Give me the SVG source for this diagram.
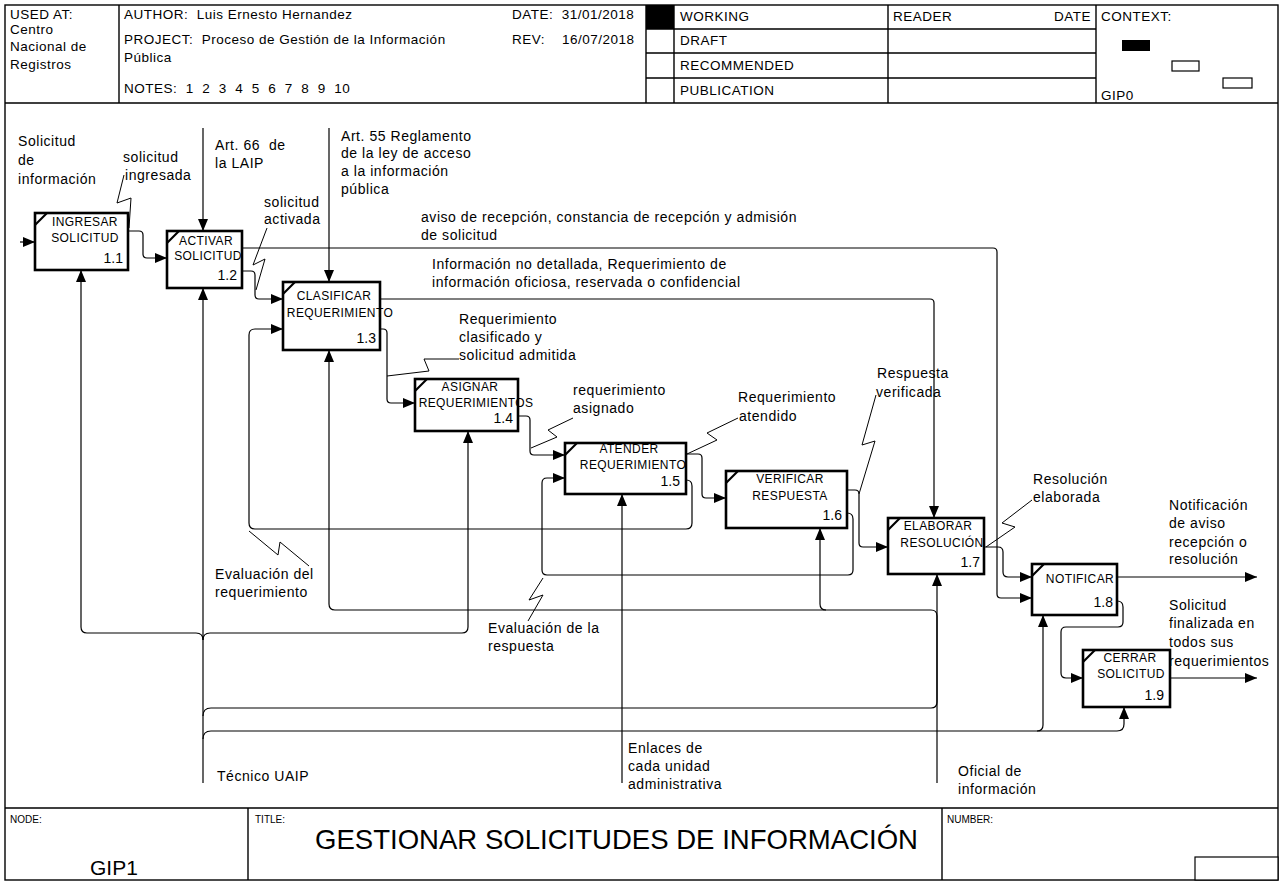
<svg xmlns="http://www.w3.org/2000/svg" width="1281" height="884" viewBox="0 0 1281 884">
<defs>
<marker id="ah" markerUnits="userSpaceOnUse" markerWidth="13" markerHeight="10" refX="12" refY="5" orient="auto"><path d="M0,0 L12,5 L0,10 z" fill="#000"/></marker>
<style>
text{font-family:"Liberation Sans",Arial,sans-serif;fill:#000}
.h{font-size:13.5px;letter-spacing:0.5px}
.l{font-size:14px;letter-spacing:0.55px}
.bx{font-size:12px;letter-spacing:0.4px;text-anchor:middle}
.num{font-size:14px;text-anchor:end}
.sm{font-size:10px}
.fr{fill:none;stroke:#000;stroke-width:1.4}
.node rect{fill:#fff;stroke:#000;stroke-width:2.6}
.node path{stroke:#000;stroke-width:2.2}
#connectors path{fill:none;stroke:#000;stroke-width:1.2}
#connectors .a{marker-end:url(#ah)}
#leaders path{fill:none;stroke:#000;stroke-width:1}
</style>
</defs>
<rect x="0" y="0" width="1281" height="884" fill="#fff"/>
<g id="frame">
<rect class="fr" x="5" y="5" width="1273" height="875"/>
<path class="fr" d="M5,103 H1278 M5,808 H1278 M119,5 V103 M646,5 V103 M674,5 V103 M888,5 V103 M1096,5 V103 M646,29 H1096 M646,53 H1096 M646,78 H1096 M248,808 V880 M942,808 V880"/>
<rect x="646" y="5" width="28" height="24" fill="#000"/>
<rect x="1122" y="40" width="28" height="11" fill="#000"/>
<rect x="1172" y="61" width="27" height="10" fill="#fff" stroke="#000" stroke-width="1.2"/>
<rect x="1223" y="78" width="29" height="10" fill="#fff" stroke="#000" stroke-width="1.2"/>
<rect x="1195" y="857" width="83" height="23" fill="#fff" stroke="#000" stroke-width="1.2"/>
</g>
<g id="header">
<text class="h" x="10" y="19">USED AT:</text>
<text class="h" x="10" y="34">Centro</text>
<text class="h" x="10" y="51">Nacional de</text>
<text class="h" x="10" y="69">Registros</text>
<text class="h" x="124" y="19" xml:space="preserve">AUTHOR:  Luis Ernesto Hernandez</text>
<text class="h" x="124" y="44" xml:space="preserve">PROJECT:  Proceso de Gestión de la Información</text>
<text class="h" x="124" y="62">Pública</text>
<text class="h" x="124" y="93" xml:space="preserve">NOTES:  1  2  3  4  5  6  7  8  9  10</text>
<text class="h" x="512" y="19" xml:space="preserve">DATE:  31/01/2018</text>
<text class="h" x="512" y="44" xml:space="preserve">REV:    16/07/2018</text>
<text class="h" x="680" y="21">WORKING</text>
<text class="h" x="680" y="45">DRAFT</text>
<text class="h" x="680" y="70">RECOMMENDED</text>
<text class="h" x="680" y="95">PUBLICATION</text>
<text class="h" x="893" y="21">READER</text>
<text class="h" x="1091" y="21" text-anchor="end">DATE</text>
<text class="h" x="1101" y="21">CONTEXT:</text>
<text class="h" x="1101" y="100">GIP0</text>
</g>
<g id="footer">
<text class="sm" x="10" y="823">NODE:</text>
<text x="90" y="875" font-size="21">GIP1</text>
<text class="sm" x="255" y="823">TITLE:</text>
<text x="315" y="849" font-size="28" textLength="603" lengthAdjust="spacingAndGlyphs">GESTIONAR SOLICITUDES DE INFORMACIÓN</text>
<text class="sm" x="947" y="823">NUMBER:</text>
</g>
<g id="connectors">
<path class="a" d="M20,242 H35"/>
<path class="a" d="M128,231 H139 Q143,231 143,235 V254 Q143,258 147,258 H167"/>
<path class="a" d="M203,128 V231"/>
<path class="a" d="M329,128 V282"/>
<path class="a" d="M242,248 H993 Q997,248 997,252 V594 Q997,598 1001,598 H1032"/>
<path class="a" d="M242,271 H251 Q255,271 255,275 V295 Q255,299 259,299 H283"/>
<path class="a" d="M380,299 H930 Q934,299 934,303 V518"/>
<path class="a" d="M380,329 H383 Q387,329 387,333 V399 Q387,403 391,403 H415"/>
<path class="a" d="M518,416 H526 Q530,416 530,420 V451 Q530,455 534,455 H565"/>
<path class="a" d="M686,454 H698 Q702,454 702,458 V494 Q702,498 706,498 H726"/>
<path class="a" d="M847,490 H855 Q859,490 859,494 V543 Q859,547 863,547 H888"/>
<path class="a" d="M984,547 H998 Q1003,547 1003,552 V572 Q1003,577 1008,577 H1032"/>
<path class="a" d="M1117,577 H1257"/>
<path class="a" d="M1117,601 Q1123,601 1123,607 V622 Q1123,627 1118,627 H1066 Q1061,627 1061,632 V673 Q1061,678 1066,678 H1083"/>
<path class="a" d="M1170,678 H1257"/>
<path class="a" d="M686,480 Q692,480 692,486 V523 Q692,529 686,529 H255 Q249,529 249,523 V335 Q249,329 255,329 H283"/>
<path class="a" d="M847,513 Q853,513 853,519 V570 Q853,575 848,575 H547 Q542,575 542,570 V483 Q542,478 547,478 H565"/>
<path class="a" d="M203,783 V288"/>
<path class="a" d="M203,640 Q203,633 196,633 H87 Q81,633 81,627 V270"/>
<path class="a" d="M203,640 Q203,633 210,633 H462 Q468,633 468,627 V431"/>
<path class="a" d="M203,716 Q203,708 211,708 H931 Q937,708 937,702 V616 Q937,610 931,610 H335 Q329,610 329,604 V350"/>
<path class="a" d="M826,610 Q820,610 820,604 V528"/>
<path class="a" d="M203,739 Q203,731 211,731 H1117 Q1124,731 1124,724 V707"/>
<path class="a" d="M1037,731 Q1043,731 1043,725 V615"/>
<path class="a" d="M622,783 V494"/>
<path class="a" d="M937,783 V574"/>
</g>
<g id="leaders">
<path d="M124,175 L117,203 L131,198 L129,228"/>
<path d="M267,228 L253,265 L265,259 L256,290"/>
<path d="M459,359 H424 L429,371 L387,376"/>
<path d="M573,418 L548,430 L557,437 L531,448"/>
<path d="M738,418 L707,433 L717,440 L687,454"/>
<path d="M876,395 L862,445 L875,441 L859,494"/>
<path d="M1032,500 L1002,523 L1015,527 L986,547"/>
<path d="M249,531 L278,555 L280,542 L309,566"/>
<path d="M543,578 L529,600 L543,595 L528,621"/>
</g>
<g id="labels">
<text class="l" x="18" y="146">Solicitud</text>
<text class="l" x="18" y="165">de</text>
<text class="l" x="18" y="184">información</text>
<text class="l" x="123" y="162">solicitud</text>
<text class="l" x="125" y="180">ingresada</text>
<text class="l" x="215" y="150" xml:space="preserve">Art. 66  de</text>
<text class="l" x="215" y="168">la LAIP</text>
<text class="l" x="341" y="141">Art. 55 Reglamento</text>
<text class="l" x="341" y="158">de la ley de acceso</text>
<text class="l" x="341" y="176">a la información</text>
<text class="l" x="341" y="194">pública</text>
<text class="l" x="264" y="207">solicitud</text>
<text class="l" x="264" y="224">activada</text>
<text class="l" x="421" y="222">aviso de recepción, constancia de recepción y admisión</text>
<text class="l" x="421" y="240">de solicitud</text>
<text class="l" x="432" y="269">Información no detallada, Requerimiento de</text>
<text class="l" x="432" y="287">información oficiosa, reservada o confidencial</text>
<text class="l" x="459" y="324">Requerimiento</text>
<text class="l" x="459" y="342">clasificado y</text>
<text class="l" x="459" y="360">solicitud admitida</text>
<text class="l" x="573" y="395">requerimiento</text>
<text class="l" x="573" y="413">asignado</text>
<text class="l" x="738" y="402">Requerimiento</text>
<text class="l" x="739" y="421">atendido</text>
<text class="l" x="877" y="378">Respuesta</text>
<text class="l" x="876" y="397">verificada</text>
<text class="l" x="1033" y="484">Resolución</text>
<text class="l" x="1033" y="502">elaborada</text>
<text class="l" x="1169" y="510">Notificación</text>
<text class="l" x="1169" y="528">de aviso</text>
<text class="l" x="1169" y="547">recepción o</text>
<text class="l" x="1169" y="564">resolución</text>
<text class="l" x="1169" y="610">Solicitud</text>
<text class="l" x="1169" y="628">finalizada en</text>
<text class="l" x="1169" y="647">todos sus</text>
<text class="l" x="1169" y="666">requerimientos</text>
<text class="l" x="215" y="579">Evaluación del</text>
<text class="l" x="215" y="597">requerimiento</text>
<text class="l" x="488" y="633">Evaluación de la</text>
<text class="l" x="488" y="651">respuesta</text>
<text class="l" x="217" y="781">Técnico UAIP</text>
<text class="l" x="628" y="753">Enlaces de</text>
<text class="l" x="628" y="771">cada unidad</text>
<text class="l" x="628" y="789">administrativa</text>
<text class="l" x="958" y="776">Oficial de</text>
<text class="l" x="958" y="794">información</text>
</g>
<g id="n11" class="node"><rect x="35" y="213" width="93" height="57"/><path d="M35,225 L47,213"/><text class="bx" x="85" y="226">INGRESAR</text><text class="bx" x="85" y="242">SOLICITUD</text><text class="num" x="123" y="263">1.1</text></g>
<g id="n12" class="node"><rect x="167" y="231" width="75" height="57"/><path d="M167,243 L179,231"/><text class="bx" x="206" y="245">ACTIVAR</text><text class="bx" x="208" y="260">SOLICITUD</text><text class="num" x="237" y="280">1.2</text></g>
<g id="n13" class="node"><rect x="283" y="282" width="97" height="68"/><path d="M283,294 L295,282"/><text class="bx" x="334" y="300">CLASIFICAR</text><text class="bx" x="340" y="317">REQUERIMIENTO</text><text class="num" x="376" y="343">1.3</text></g>
<g id="n14" class="node"><rect x="415" y="379" width="103" height="52"/><path d="M415,391 L427,379"/><text class="bx" x="470" y="391">ASIGNAR</text><text class="bx" x="476" y="407">REQUERIMIENTOS</text><text class="num" x="513" y="423">1.4</text></g>
<g id="n15" class="node"><rect x="565" y="443" width="121" height="51"/><path d="M565,455 L577,443"/><text class="bx" x="629" y="453">ATENDER</text><text class="bx" x="633" y="469">REQUERIMIENTO</text><text class="num" x="680" y="486">1.5</text></g>
<g id="n16" class="node"><rect x="726" y="471" width="121" height="57"/><path d="M726,483 L738,471"/><text class="bx" x="790" y="483">VERIFICAR</text><text class="bx" x="790" y="500">RESPUESTA</text><text class="num" x="842" y="520">1.6</text></g>
<g id="n17" class="node"><rect x="888" y="518" width="96" height="56"/><path d="M888,530 L900,518"/><text class="bx" x="938" y="530">ELABORAR</text><text class="bx" x="942" y="547">RESOLUCIÓN</text><text class="num" x="980" y="567">1.7</text></g>
<g id="n18" class="node"><rect x="1032" y="564" width="85" height="51"/><path d="M1032,576 L1044,564"/><text class="bx" x="1080" y="583">NOTIFICAR</text><text class="num" x="1113" y="607">1.8</text></g>
<g id="n19" class="node"><rect x="1083" y="650" width="87" height="57"/><path d="M1083,662 L1095,650"/><text class="bx" x="1130" y="662">CERRAR</text><text class="bx" x="1131" y="678">SOLICITUD</text><text class="num" x="1164" y="700">1.9</text></g>
</svg>
